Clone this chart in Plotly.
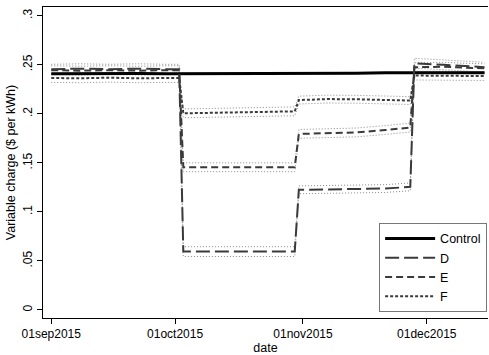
import plotly.graph_objects as go

dates = ["2015-09-01", "2015-09-08", "2015-09-15", "2015-09-22", "2015-09-29",
         "2015-10-02", "2015-10-03", "2015-10-10", "2015-10-17", "2015-10-24",
         "2015-10-30", "2015-10-31", "2015-11-07", "2015-11-14", "2015-11-21",
         "2015-11-27", "2015-11-28", "2015-12-05", "2015-12-10", "2015-12-15"]

control = [0.2408, 0.2410, 0.2406, 0.2410, 0.2408, 0.2408, 0.2410, 0.2412, 0.2410, 0.2408,
           0.2410, 0.2411, 0.2410, 0.2414, 0.2418, 0.2420, 0.2420, 0.2419, 0.2418, 0.2419]

d_mean = [0.2455, 0.2460, 0.2455, 0.2460, 0.2455, 0.2455, 0.0595, 0.0595, 0.0598, 0.0595,
          0.0595, 0.1225, 0.1228, 0.1230, 0.1238, 0.1255, 0.2515, 0.2500, 0.2485, 0.2475]
d_hi = [0.2505, 0.2510, 0.2505, 0.2510, 0.2505, 0.2505, 0.0645, 0.0645, 0.0648, 0.0645,
        0.0645, 0.1265, 0.1268, 0.1270, 0.1278, 0.1295, 0.2565, 0.2550, 0.2535, 0.2525]
d_lo = [0.2405, 0.2410, 0.2405, 0.2410, 0.2405, 0.2405, 0.0545, 0.0545, 0.0548, 0.0545,
        0.0545, 0.1185, 0.1188, 0.1190, 0.1198, 0.1215, 0.2465, 0.2450, 0.2435, 0.2425]

e_mean = [0.2445, 0.2440, 0.2445, 0.2440, 0.2445, 0.2445, 0.1455, 0.1455, 0.1455, 0.1455,
          0.1455, 0.1795, 0.1805, 0.1810, 0.1835, 0.1860, 0.2475, 0.2480, 0.2470, 0.2465]
e_hi = [0.2490, 0.2485, 0.2490, 0.2485, 0.2490, 0.2490, 0.1500, 0.1500, 0.1500, 0.1500,
        0.1500, 0.1840, 0.1850, 0.1855, 0.1880, 0.1905, 0.2520, 0.2525, 0.2515, 0.2510]
e_lo = [0.2400, 0.2395, 0.2400, 0.2395, 0.2400, 0.2400, 0.1410, 0.1410, 0.1410, 0.1410,
        0.1410, 0.1750, 0.1760, 0.1765, 0.1790, 0.1815, 0.2430, 0.2435, 0.2425, 0.2420]

f_mean = [0.2365, 0.2362, 0.2368, 0.2362, 0.2365, 0.2365, 0.2005, 0.2010, 0.2015, 0.2020,
          0.2025, 0.2140, 0.2150, 0.2148, 0.2140, 0.2135, 0.2390, 0.2385, 0.2388, 0.2385]
f_hi = [0.2410, 0.2407, 0.2413, 0.2407, 0.2410, 0.2410, 0.2050, 0.2055, 0.2060, 0.2065,
        0.2070, 0.2180, 0.2190, 0.2188, 0.2180, 0.2175, 0.2435, 0.2430, 0.2433, 0.2430]
f_lo = [0.2320, 0.2317, 0.2323, 0.2317, 0.2320, 0.2320, 0.1960, 0.1965, 0.1970, 0.1975,
        0.1980, 0.2100, 0.2110, 0.2108, 0.2100, 0.2095, 0.2345, 0.2340, 0.2343, 0.2340]

x_tickvals = ["2015-09-01", "2015-10-01", "2015-11-01", "2015-12-01"]
x_ticktext = ["01sep2015", "01oct2015", "01nov2015", "01dec2015"]
y_tickvals = [0, 0.05, 0.1, 0.15, 0.2, 0.25, 0.3]
y_ticktext = ["0", ".05", ".1", ".15", ".2", ".25", ".3"]

FONT = "Liberation Sans, Arial, Helvetica, sans-serif"

fig = go.Figure()

# confidence bands (thin dotted)
for band in [d_hi, d_lo, e_hi, e_lo, f_hi, f_lo]:
    fig.add_trace(go.Scatter(x=dates, y=band, mode="lines", showlegend=False,
                             hoverinfo="skip",
                             line=dict(color="#8a8a8a", width=1, dash="1px,2px")))

fig.add_trace(go.Scatter(x=dates, y=control, mode="lines", name="Control",
                         line=dict(color="#000000", width=3)))
fig.add_trace(go.Scatter(x=dates, y=d_mean, mode="lines", name="D",
                         line=dict(color="#3a3a3a", width=2, dash="14px,5px")))
fig.add_trace(go.Scatter(x=dates, y=e_mean, mode="lines", name="E",
                         line=dict(color="#3a3a3a", width=2, dash="7px,4px")))
fig.add_trace(go.Scatter(x=dates, y=f_mean, mode="lines", name="F",
                         line=dict(color="#3a3a3a", width=2, dash="3px,2px")))

fig.update_layout(
    width=489, height=355,
    margin=dict(l=43, r=1, t=7, b=37, autoexpand=False),
    paper_bgcolor="white", plot_bgcolor="white",
    font=dict(family=FONT, size=12, color="#000000"),
    showlegend=True,
    legend=dict(x=0.998, xanchor="right", y=0.02, yanchor="bottom",
                bgcolor="white", bordercolor="#777777", borderwidth=1,
                font=dict(size=12.5), tracegroupgap=0, itemwidth=50),
)
fig.update_xaxes(
    automargin=False,
    range=["2015-08-30", "2015-12-15 20:00"],
    tickvals=x_tickvals, ticktext=x_ticktext,
    showgrid=False, zeroline=False,
    showline=True, linecolor="#000000", linewidth=1, mirror=True,
    ticks="outside", ticklen=5, tickcolor="#000000",
    title=dict(text="date", standoff=2, font=dict(size=12.5)),
)
fig.update_yaxes(
    automargin=False,
    range=[-0.0082, 0.3089],
    tickvals=y_tickvals, ticktext=y_ticktext, tickangle=-90,
    showgrid=False, zeroline=False,
    showline=True, linecolor="#000000", linewidth=1,
    ticks="outside", ticklen=5, tickcolor="#000000",
    title=dict(text="Variable charge ($ per kWh)", standoff=2, font=dict(size=12.5)),
)

fig.write_html("out.html", config={"displayModeBar": False},
               post_script="document.body.style.margin='0';")
